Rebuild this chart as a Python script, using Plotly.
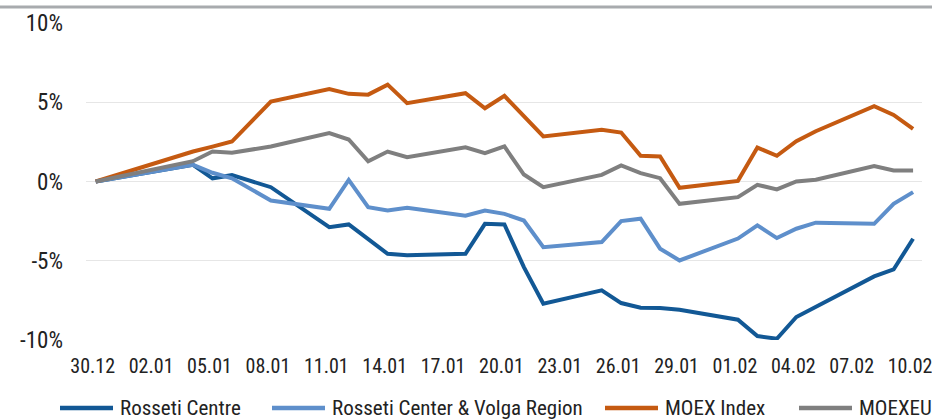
import plotly.graph_objects as go

dates = ["2020-12-30", "2021-01-04", "2021-01-05", "2021-01-06", "2021-01-08",
         "2021-01-11", "2021-01-12", "2021-01-13", "2021-01-14", "2021-01-15",
         "2021-01-18", "2021-01-19", "2021-01-20", "2021-01-21", "2021-01-22",
         "2021-01-25", "2021-01-26", "2021-01-27", "2021-01-28", "2021-01-29",
         "2021-02-01", "2021-02-02", "2021-02-03", "2021-02-04", "2021-02-05",
         "2021-02-08", "2021-02-09", "2021-02-10"]

rosseti_centre = [0, 1.05, 0.2, 0.4, -0.36, -2.88, -2.71, -3.61, -4.56, -4.66,
                  -4.56, -2.67, -2.71, -5.4, -7.71, -6.87, -7.67, -7.96, -7.98, -8.09,
                  -8.72, -9.75, -9.92, -8.55, -7.92, -5.99, -5.55, -3.61]

rosseti_volga = [0, 1.05, 0.55, 0.2, -1.2, -1.72, 0.1, -1.62, -1.83, -1.66,
                 -2.16, -1.83, -2.04, -2.46, -4.14, -3.82, -2.5, -2.35, -4.24, -4.98,
                 -3.6, -2.77, -3.57, -2.98, -2.6, -2.67, -1.41, -0.67]

moex_index = [0, 1.89, 2.2, 2.52, 5.04, 5.84, 5.53, 5.48, 6.11, 4.94,
              5.57, 4.62, 5.40, 4.16, 2.84, 3.26, 3.09, 1.62, 1.58, -0.40,
              0.04, 2.14, 1.62, 2.54, 3.17, 4.75, 4.20, 3.32]

moexeu = [0, 1.28, 1.89, 1.81, 2.21, 3.05, 2.65, 1.28, 1.89, 1.53,
          2.16, 1.79, 2.21, 0.44, -0.36, 0.42, 1.01, 0.53, 0.21, -1.41,
          -0.99, -0.21, -0.50, 0.0, 0.11, 0.97, 0.69, 0.69]

series_names = ["Rosseti Centre", "Rosseti Center & Volga Region", "MOEX Index", "MOEXEU"]
series_values = [rosseti_centre, rosseti_volga, moex_index, moexeu]
series_colors = ["#125895", "#5e8fcb", "#c55a11", "#7f7f7f"]

y_tick_vals = [-10, -5, 0, 5, 10]
y_tick_text = ["-10%", "-5%", "0%", "5%", "10%"]

FONT = "Roboto Condensed, DejaVu Sans Condensed, sans-serif"
TEXT_COLOR = "#222222"

W, H = 932, 420
ML, MR, MT, MB = 86, 10, 23, 80
PW = W - ML - MR
PH = H - MT - MB

# legend layout (pixel positions of each entry's text start)
legend_text_px = [118, 330, 663, 857]
LEGEND_Y_PX = 408


def px_to_paper_x(px):
    return (px - ML) / PW


def py_to_paper_y(py):
    return (H - MB - py) / PH


fig = go.Figure()
for name, vals, col in zip(series_names, series_values, series_colors):
    fig.add_trace(go.Scatter(x=dates, y=vals, name=name, mode="lines",
                             line=dict(color=col, width=4)))

shapes = [dict(type="line", xref="paper", yref="paper",
               x0=px_to_paper_x(0), x1=px_to_paper_x(W),
               y0=py_to_paper_y(7), y1=py_to_paper_y(7),
               line=dict(color="#a8abae", width=3))]
annotations = []
ly = py_to_paper_y(LEGEND_Y_PX)
for name, col, tx in zip(series_names, series_colors, legend_text_px):
    shapes.append(dict(type="line", xref="paper", yref="paper",
                       x0=px_to_paper_x(tx - 58), x1=px_to_paper_x(tx - 5),
                       y0=ly, y1=ly, line=dict(color=col, width=4.5)))
    annotations.append(dict(text=name, xref="paper", yref="paper",
                            x=px_to_paper_x(tx), y=ly, xanchor="left", yanchor="middle",
                            showarrow=False,
                            font=dict(family=FONT, size=21, color=TEXT_COLOR)))

fig.update_layout(
    width=W, height=H,
    margin=dict(l=ML, r=MR, t=MT, b=MB, autoexpand=False),
    paper_bgcolor="white", plot_bgcolor="white",
    showlegend=False,
    font=dict(family=FONT, color=TEXT_COLOR),
    xaxis=dict(type="date", range=["2020-12-29 12:00", "2021-02-10 11:00"],
               tick0="2020-12-30", dtick=3 * 86400000, tickformat="%d.%m",
               showgrid=False, zeroline=False, showline=False, ticks="",
               tickfont=dict(family=FONT, size=20, color=TEXT_COLOR),
               ticklabelstandoff=12, ticklabeloverflow="allow",
               ticklabelshift=-3),
    yaxis=dict(range=[-10, 10], tickvals=y_tick_vals, ticktext=y_tick_text,
               showgrid=True, gridcolor="#e6e6e6", gridwidth=1,
               zeroline=False, showline=False, ticks="",
               tickfont=dict(family=FONT, size=23, color=TEXT_COLOR),
               ticklabelstandoff=22),
    shapes=shapes,
    annotations=annotations,
)

fig.write_html("out.html", config={"displayModeBar": False},
               post_script="document.body.style.margin='0';")
